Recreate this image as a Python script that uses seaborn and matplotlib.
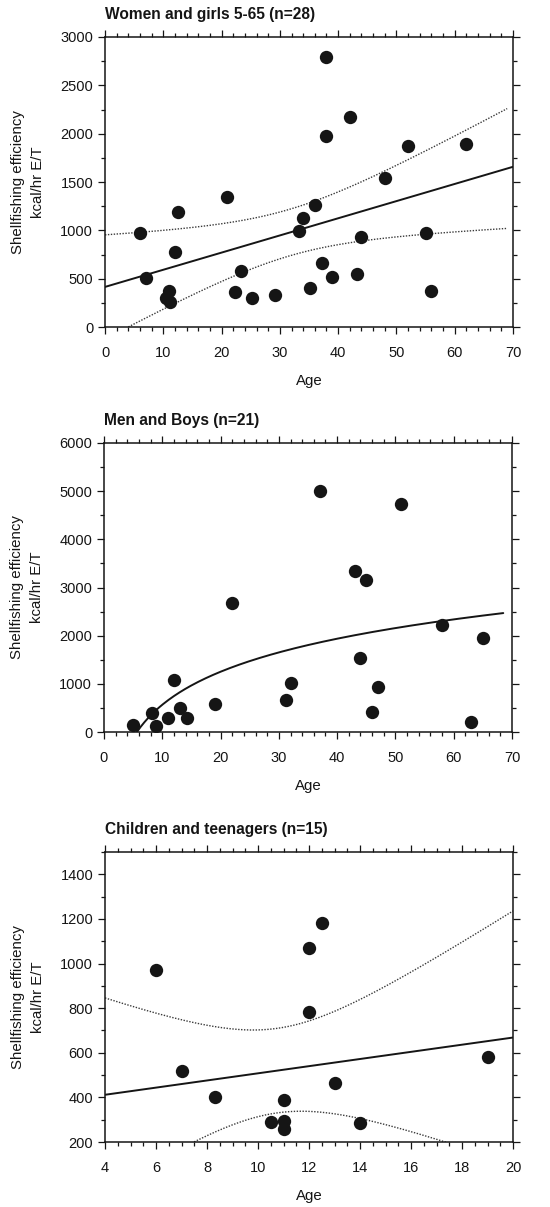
import numpy as np
import pandas as pd
import matplotlib
matplotlib.use("Agg")
import matplotlib.pyplot as plt
from matplotlib.ticker import MultipleLocator
import seaborn as sns

# ---------------- data ----------------
women_age = [6, 7, 11, 10.5, 11.2, 12, 12.5, 21, 22.3, 23.3, 25.3, 29.2, 33.2, 34,
             36, 35.2, 37.2, 39, 43.2, 44, 55, 56, 38, 38, 42, 48, 52, 62]
women_eff = [970, 510, 375, 295, 260, 775, 1190, 1345, 360, 575, 295, 330, 990, 1130,
             1260, 400, 660, 520, 550, 930, 975, 370, 2790, 1975, 2175, 1540, 1870, 1890]

men_age = [5, 8.3, 9, 11, 12, 13, 14.3, 19, 22, 31.3, 32, 37, 43, 44, 45, 46, 47,
           51, 58, 63, 65]
men_eff = [140, 400, 125, 290, 1075, 490, 290, 580, 2680, 660, 1010, 5000, 3350,
           1530, 3160, 420, 940, 4730, 2220, 200, 1950]

# two of the 15 children fall below the visible axis range (inferred)
child_age = [6, 7, 8.3, 10.5, 11, 11, 11, 12, 12, 12.5, 13, 14, 19, 6.8, 7.2]
child_eff = [970, 520, 400, 290, 390, 295, 260, 1070, 785, 1180, 465, 285, 580, 150, 160]

titles = ["Women and girls 5-65 (n=28)", "Men and Boys (n=21)",
          "Children and teenagers (n=15)"]
ylabel_text = "Shellfishing efficiency\nkcal/hr E/T"
xlabel_text = "Age"

# ---------------- style ----------------
sns.set_theme(style="ticks")
plt.rcParams["font.family"] = ["Liberation Sans", "DejaVu Sans"]
plt.rcParams["axes.linewidth"] = 1.1

INK = "#151515"
FS_TICK = 10.5
FS_LABEL = 10.8
FS_TITLE = 11.2

fig = plt.figure(figsize=(5.5, 12.07), dpi=100)
W, H = 550.0, 1207.0


def add_axes(left_px, right_px, top_px, bottom_px):
    return fig.add_axes([left_px / W, 1 - bottom_px / H,
                         (right_px - left_px) / W, (bottom_px - top_px) / H])


def style_axes(ax, title, xmaj, xmin, ymaj, ymin):
    ax.xaxis.set_major_locator(MultipleLocator(xmaj))
    ax.xaxis.set_minor_locator(MultipleLocator(xmin))
    ax.yaxis.set_major_locator(MultipleLocator(ymaj))
    ax.yaxis.set_minor_locator(MultipleLocator(ymin))
    for s in ax.spines.values():
        s.set_visible(True)
        s.set_color(INK)
        s.set_linewidth(1.1)
    ax.tick_params(which="both", direction="out", top=True, right=True,
                   labeltop=False, labelright=False, color=INK,
                   labelcolor=INK, labelsize=FS_TICK, width=0.9)
    ax.tick_params(which="major", length=5)
    ax.tick_params(which="minor", length=3)
    ax.tick_params(axis="x", which="major", pad=9.0)
    ax.tick_params(axis="y", which="major", pad=3.5)
    ax.set_xlabel(xlabel_text, fontsize=FS_LABEL, color=INK, labelpad=10)
    ax.set_ylabel(ylabel_text, fontsize=FS_LABEL, color=INK, labelpad=11,
                  linespacing=1.55)
    ax.annotate(title, xy=(0, 1), xycoords="axes fraction",
                xytext=(0, 16.3), textcoords="offset points",
                ha="left", va="center", fontsize=FS_TITLE,
                fontweight="bold", color=INK)
    ax.grid(False)


def linear_fit_ci(x, y, grid, level_t):
    x = np.asarray(x, float)
    y = np.asarray(y, float)
    n = len(x)
    b, a = np.polyfit(x, y, 1)
    resid = y - (a + b * x)
    s = np.sqrt(np.sum(resid ** 2) / (n - 2))
    sxx = np.sum((x - x.mean()) ** 2)
    fit = a + b * grid
    half = level_t * s * np.sqrt(1.0 / n + (grid - x.mean()) ** 2 / sxx)
    return fit - half, fit + half


scatter_kw = dict(s=92, color=INK, alpha=1, zorder=3, linewidths=0)
line_kw = dict(color=INK, linewidth=1.4)
dot_kw = dict(color="#3a3a3a", linewidth=1.0, linestyle=(0, (1, 1.1)))

# ---------------- panel 1: women ----------------
ax1 = add_axes(105, 513, 37, 327)
df1 = pd.DataFrame({"Age": women_age, "Eff": women_eff})
ax1.set_xlim(0, 70)
ax1.set_ylim(0, 3000)
sns.regplot(data=df1, x="Age", y="Eff", ax=ax1, ci=None, truncate=False,
            scatter_kws=scatter_kw, line_kws=line_kw)
g1 = np.linspace(0, 69, 200)
lo1, hi1 = linear_fit_ci(women_age, women_eff, g1, 2.056)
sns.lineplot(x=g1, y=hi1, ax=ax1, **dot_kw)
sns.lineplot(x=g1, y=lo1, ax=ax1, **dot_kw)
ax1.set_xlim(0, 70)
ax1.set_ylim(0, 3000)
style_axes(ax1, titles[0], 10, 2, 500, 250)

# ---------------- panel 2: men (logarithmic fit) ----------------
ax2 = add_axes(104, 512, 443, 732)
df2 = pd.DataFrame({"Age": men_age, "Eff": men_eff})
sns.scatterplot(data=df2, x="Age", y="Eff", ax=ax2, legend=False, **scatter_kw)
bl, al = np.polyfit(np.log(men_age), men_eff, 1)
g2 = np.linspace(5, 68.5, 200)
sns.lineplot(x=g2, y=al + bl * np.log(g2), ax=ax2, **line_kw)
ax2.set_xlim(0, 70)
ax2.set_ylim(0, 6000)
style_axes(ax2, titles[1], 10, 2, 1000, 500)

# ---------------- panel 3: children ----------------
ax3 = add_axes(105, 513, 852, 1142)
df3 = pd.DataFrame({"Age": child_age, "Eff": child_eff})
ax3.set_xlim(4, 20)
ax3.set_ylim(200, 1500)
sns.regplot(data=df3, x="Age", y="Eff", ax=ax3, ci=None, truncate=False,
            scatter_kws=scatter_kw, line_kws=line_kw)
g3 = np.linspace(4, 20, 200)
lo3, hi3 = linear_fit_ci(child_age, child_eff, g3, 2.160)
sns.lineplot(x=g3, y=hi3, ax=ax3, **dot_kw)
sns.lineplot(x=g3, y=lo3, ax=ax3, **dot_kw)
ax3.set_xlim(4, 20)
ax3.set_ylim(200, 1500)
style_axes(ax3, titles[2], 2, 0.5, 200, 100)
ax3.set_yticks([200, 400, 600, 800, 1000, 1200, 1400])

fig.savefig("out.png", dpi=100, facecolor="white")
